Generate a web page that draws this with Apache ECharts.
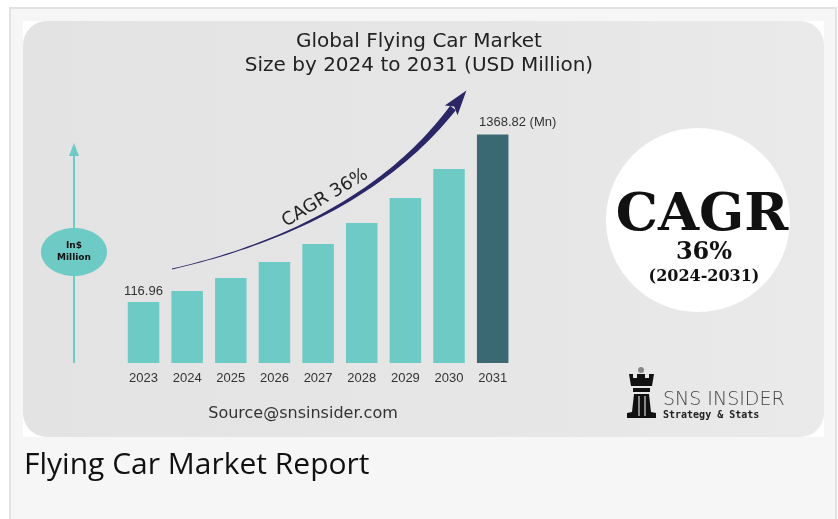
<!DOCTYPE html>
<html>
<head>
<meta charset="utf-8">
<style>
html,body{margin:0;padding:0;background:#ffffff;}
#chart{width:838px;height:519px;}
</style>
<script src="https://cdn.jsdelivr.net/npm/echarts@6/dist/echarts.min.js"></script>
</head>
<body>
<div id="chart"></div>
<script>
// ---- data ----
var years = ['2023','2024','2025','2026','2027','2028','2029','2030','2031'];
var marketSize = [116.96, 199, 296, 416, 550, 708, 895, 1112, 1368.82];
var titleLines = ['Global Flying Car Market', 'Size by 2024 to 2031 (USD Million)'];
var cagrText = 'CAGR 36%';
var badgeLines = ['CAGR', '36%', '(2024-2031)'];
var unitLines = ['In$', 'Million'];
var sourceText = 'Source@snsinsider.com';
var footerTitle = 'Flying Car Market Report';

// the source picture is not drawn to scale: its bars rise from a hidden floor
var AXIS_MIN = -340, AXIS_MAX = 1800;

var chart = echarts.init(document.getElementById('chart'));

// curved arrow outline (decoration)
function bez(p0,p1,p2,p3,t){
  var u=1-t;
  return [u*u*u*p0[0]+3*u*u*t*p1[0]+3*u*t*t*p2[0]+t*t*t*p3[0],
          u*u*u*p0[1]+3*u*u*t*p1[1]+3*u*t*t*p2[1]+t*t*t*p3[1]];
}
var P0=[172,269],P1=[290,242],P2=[390,190],P3=[453,108];
var left=[],right=[],N=50;
for(var i=0;i<=N;i++){
  var t=i/N, p=bez(P0,P1,P2,P3,t);
  var a=bez(P0,P1,P2,P3,Math.max(0,t-0.01)), b=bez(P0,P1,P2,P3,Math.min(1,t+0.01));
  var dx=b[0]-a[0], dy=b[1]-a[1], L=Math.sqrt(dx*dx+dy*dy);
  var nx=-dy/L, ny=dx/L, w=0.4+3.2*Math.pow(t,1.6);
  left.push([p[0]+nx*w,p[1]+ny*w]); right.push([p[0]-nx*w,p[1]-ny*w]);
}
var shaft=left.concat(right.reverse());
var ddx=P3[0]-P2[0], ddy=P3[1]-P2[1], dl=Math.sqrt(ddx*ddx+ddy*ddy);
var ux=ddx/dl, uy=ddy/dl, px=-uy, py=ux;
var head=[[P3[0]+ux*22,P3[1]+uy*22],[P3[0]+px*8-ux*3,P3[1]+py*8-uy*3],[P3[0]+ux*2,P3[1]+uy*2],[P3[0]-px*8-ux*3,P3[1]-py*8-uy*3]];

var lastIdx = marketSize.length-1;
function renderBar(params, api){
  var idx = api.value(0), val = api.value(1);
  var top = api.coord([idx, val]);
  var base = api.coord([idx, AXIS_MIN]);
  var w = api.size([1,0])[0]*0.722;
  var children = [{type:'rect', shape:{x:top[0]-w/2, y:top[1], width:w, height:base[1]-top[1]},
    style:{fill: idx===lastIdx ? '#3b6973' : '#6dcac4'}}];
  if(idx===0){
    children.push({type:'text', x:top[0], y:top[1]-11, style:{text:String(val), font:'13px "Liberation Sans"', fill:'#333', align:'center', verticalAlign:'middle'}});
  }
  if(idx===lastIdx){
    children.push({type:'text', x:top[0]+25, y:top[1]-12, style:{text:String(val)+' (Mn)', font:'13px "Liberation Sans"', fill:'#333', align:'center', verticalAlign:'middle'}});
  }
  return {type:'group', children:children};
}

var option = {
  backgroundColor:'#ffffff',
  animation:false,
  grid:{left:121.7, right:323.5, top:77, bottom:156},
  xAxis:{type:'category', data:years,
    axisLine:{show:false}, axisTick:{show:false},
    axisLabel:{color:'#333', fontSize:13, fontFamily:'Liberation Sans', margin:9}},
  yAxis:{type:'value', min:AXIS_MIN, max:AXIS_MAX, show:false, splitLine:{show:false}},
  series:[{type:'custom', z:5, renderItem:renderBar,
    encode:{x:0, y:1},
    data: marketSize.map(function(v,i){ return [i, v]; })}],
  graphic:[
    {type:'rect', z:-20, silent:true, shape:{x:10,y:8,width:826,height:530}, style:{fill:'#f6f6f6', stroke:'#e2e2e2', lineWidth:2}},
    {type:'rect', z:-19, silent:true, shape:{x:23,y:21,width:801,height:416}, style:{fill:'#ffffff'}},
    {type:'rect', z:-18, silent:true, shape:{x:23,y:21,width:801,height:416,r:24},
      style:{fill:{type:'linear',x:0,y:0,x2:1,y2:0,colorStops:[{offset:0,color:'#e3e3e3'},{offset:0.6,color:'#e6e6e6'},{offset:1,color:'#eaeaea'}]}}},
    // title
    {type:'text', z:10, left:'center', top:32, style:{text:titleLines[0], font:'500 20px "DejaVu Sans"', fill:'#222', textAlign:'center'}},
    {type:'text', z:10, left:'center', top:56, style:{text:titleLines[1], font:'500 20px "DejaVu Sans"', fill:'#222', textAlign:'center'}},
    // left unit arrow
    {type:'line', z:6, shape:{x1:74,y1:152,x2:74,y2:363}, style:{stroke:'#6dcac4', lineWidth:2}},
    {type:'polygon', z:6, shape:{points:[[74,143],[69,156],[79,156]]}, style:{fill:'#6dcac4'}},
    {type:'ellipse', z:7, shape:{cx:74,cy:252,rx:33,ry:24}, style:{fill:'#6dcac4'}},
    {type:'text', z:8, x:74, y:246, style:{text:unitLines[0], font:'bold 9px "DejaVu Sans"', fill:'#111', align:'center', verticalAlign:'middle'}},
    {type:'text', z:8, x:74, y:258, style:{text:unitLines[1], font:'bold 9px "DejaVu Sans"', fill:'#111', align:'center', verticalAlign:'middle'}},
    // curved arrow
    {type:'polygon', z:8, shape:{points:shaft}, style:{fill:'#2b2766'}},
    {type:'polygon', z:8, shape:{points:head}, style:{fill:'#2b2766'}},
    {type:'text', z:9, x:325, y:198, rotation:0.54, style:{text:cagrText, font:'18px "DejaVu Sans"', fill:'#222', align:'center', verticalAlign:'middle'}},
    // CAGR badge
    {type:'circle', z:6, shape:{cx:698,cy:220,r:92}, style:{fill:'#ffffff'}},
    {type:'text', z:7, x:702, y:216, style:{text:badgeLines[0], font:'bold 53px "DejaVu Serif"', fill:'#111', align:'center', verticalAlign:'middle'}},
    {type:'text', z:7, x:704, y:253, style:{text:badgeLines[1], font:'bold 24px "DejaVu Serif"', fill:'#111', align:'center', verticalAlign:'middle'}},
    {type:'text', z:7, x:704, y:277, style:{text:badgeLines[2], font:'bold 16px "DejaVu Serif"', fill:'#111', align:'center', verticalAlign:'middle'}},
    // source
    {type:'text', z:7, x:303, y:414, style:{text:sourceText, font:'16px "DejaVu Sans"', fill:'#333', align:'center', verticalAlign:'middle'}},
    // logo
    {type:'circle', z:7, shape:{cx:641,cy:370,r:3}, style:{fill:'#888'}},
    {type:'polygon', z:7, shape:{points:[[629,374],[633,374],[633,378],[637,378],[637,374],[645,374],[645,378],[649,378],[649,374],[654,374],[652,386],[631,386]]}, style:{fill:'#111'}},
    {type:'rect', z:7, shape:{x:633,y:388,width:17,height:4}, style:{fill:'#111'}},
    {type:'polygon', z:7, shape:{points:[[634,394],[649,394],[651,412],[656,413],[656,418],[627,418],[627,413],[632,412]]}, style:{fill:'#111'}},
    {type:'rect', z:8, shape:{x:638,y:396,width:2,height:20}, style:{fill:'#888'}},
    {type:'rect', z:8, shape:{x:644,y:396,width:2,height:20}, style:{fill:'#888'}},
    {type:'text', z:7, x:663, y:400, style:{text:'SNS INSIDER', font:'300 19px "DejaVu Sans"', fill:'#444', align:'left', verticalAlign:'middle'}},
    {type:'text', z:7, x:663, y:415, style:{text:'Strategy & Stats', font:'bold 10px "DejaVu Sans Mono"', fill:'#222', align:'left', verticalAlign:'middle'}},
    // footer
    {type:'text', z:7, x:24, y:465, style:{text:footerTitle, font:'30px "Open Sans"', fill:'#111', align:'left', verticalAlign:'middle'}}
  ]
};
chart.setOption(option);
</script>
</body>
</html>
